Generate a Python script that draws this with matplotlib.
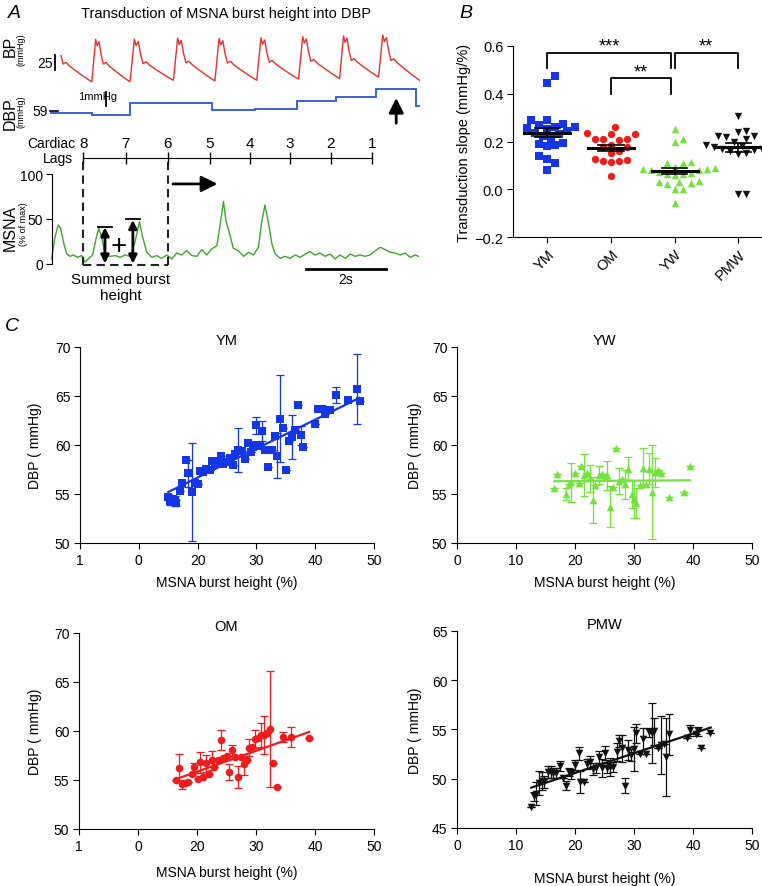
import numpy as np
import matplotlib
matplotlib.use('Agg')
from matplotlib import pyplot as plt

plt.rcParams['font.family'] = ['Liberation Sans', 'DejaVu Sans']

W, H = 762, 887

# ------------------------------------------------------------
# Panel A: example recording (time in s)
# ------------------------------------------------------------
T_END = 9.02

# one arterial pressure beat: fraction of the cycle, mmHg above the trough line
beat_frac = [0.0, 0.10, 0.14, 0.19, 0.24, 0.30, 0.37, 0.45, 0.60, 0.80, 0.95, 1.0]
beat_shape = [0, 72, 61, 68, 47, 30, 33, 27, 19, 9, 2, 0]
beat_onsets = [0.02, 1.02, 1.95, 3.01, 4.02, 5.04, 6.06, 7.06, 8.01, T_END]
beat_troughs = [59, 59, 59, 61.5, 60.5, 61.5, 63.5, 64.5, 67, 61]
bp_start = 0.27

# beat-by-beat diastolic pressure (step trace)
dbp_edges = [0, 1.02, 1.95, 2.95, 3.95, 5.0, 6.02, 6.98, 7.95, 8.93, T_END]
dbp_vals = [58.88, 58.75, 59.59, 59.54, 59.09, 59.16, 59.68, 59.95, 60.52, 59.34]

# cardiac lags
lag_t = [0.81, 1.85, 2.87, 3.89, 4.88, 5.85, 6.85, 7.86]
lag_labels = ['8', '7', '6', '5', '4', '3', '2', '1']

# integrated MSNA (% of max)
msna_t = [0.04, 0.12, 0.20, 0.26, 0.34, 0.41, 0.49, 0.57, 0.67, 0.77, 0.85, 0.93,
          1.04, 1.12, 1.19, 1.26, 1.34, 1.46, 1.59, 1.71, 1.83, 1.95, 2.07, 2.18,
          2.26, 2.36, 2.48, 2.60, 2.72, 2.85, 2.97, 3.09, 3.21, 3.33, 3.46, 3.58,
          3.70, 3.82, 3.94, 4.07, 4.15, 4.23, 4.29, 4.39, 4.47, 4.59, 4.72, 4.84,
          4.96, 5.08, 5.16, 5.24, 5.33, 5.41, 5.49, 5.61, 5.73, 5.85, 5.98, 6.10,
          6.22, 6.34, 6.46, 6.58, 6.71, 6.83, 6.95, 7.07, 7.20, 7.32, 7.44, 7.56,
          7.68, 7.80, 7.93, 8.05, 8.17, 8.29, 8.41, 8.54, 8.66, 8.78, 8.90, 8.98]
msna_v = [5.6, 29.6, 43.3, 39.6, 22, 11, 8.5, 10, 7.4, 9.3, 1.9, 5.6,
          10, 27.8, 39.6, 29.6, 11, 8.5, 9.3, 7.4, 10, 8.5, 24, 47,
          29.6, 13, 7.4, 9.3, 6.3, 10, 5.6, 12.2, 10, 14.8, 9.3, 8.5,
          16, 10, 16.7, 20.4, 44.4, 69.3, 48, 31.5, 17.4, 14.8, 8.5, 13,
          10, 18.5, 46.3, 65.6, 44.4, 22.2, 11.1, 6.3, 8.5, 6.3, 10, 7.4,
          11, 13.7, 10, 12.2, 8.5, 11, 5.6, 10, 6.3, 11, 8.5, 10,
          8.5, 10, 14.8, 18.5, 16, 13, 12.2, 10, 12.2, 7.4, 10, 8.5]

# ------------------------------------------------------------
# Panel B: transduction slopes (mmHg/%)
# ------------------------------------------------------------
groups = ['YM', 'OM', 'YW', 'PMW']
slope_ym = [0.474, 0.446, 0.290, 0.290, 0.275, 0.270, 0.262, 0.260, 0.258, 0.251, 0.245, 0.237,
            0.230, 0.222, 0.214, 0.195, 0.191, 0.184, 0.181, 0.140, 0.128, 0.109, 0.081]
slope_om = [0.262, 0.237, 0.233, 0.230, 0.212, 0.209, 0.209, 0.205, 0.185, 0.178, 0.175, 0.160,
            0.150, 0.125, 0.122, 0.120, 0.118, 0.115, 0.056]
slope_yw = [0.251, 0.212, 0.198, 0.114, 0.112, 0.112, 0.095, 0.085, 0.080, 0.091, 0.085, 0.080,
            0.072, 0.070, 0.065, 0.063, 0.060, 0.035, 0.031, 0.031, 0.028, 0.021, 0.000, 0.000, -0.059]
slope_pmw = [0.307, 0.244, 0.240, 0.223, 0.223, 0.220, 0.209, 0.200, 0.185, 0.181, 0.180, 0.178,
             0.170, 0.167, 0.165, 0.160, 0.150, 0.147, -0.021, -0.021]

# ------------------------------------------------------------
# Panel C: DBP vs MSNA burst height
# ------------------------------------------------------------
ym_x = [14.9, 15.3, 15.9, 16.1, 16.4, 17.0, 17.4, 17.95, 18.4, 19.0, 19.5, 20.0, 20.4, 20.95, 21.5,
        22.1, 22.5, 22.9, 23.5, 23.9, 24.3, 24.9, 25.5, 26.0, 26.4, 26.9, 27.5, 28.0, 28.5, 29.0,
        29.4, 30.0, 30.0, 30.6, 31.0, 31.5, 32.0, 32.6, 33.1, 33.5, 34.0, 34.5, 35.0, 35.6, 36.1,
        36.5, 37.0, 37.5, 37.9, 40.0, 40.5, 41.1, 41.6, 42.6, 43.5, 45.5, 47.1, 47.6]
ym_y = [54.7, 54.3, 54.5, 54.3, 54.1, 55.3, 56.1, 58.5, 57.1, 55.2, 56.1, 56.0, 57.3, 57.2, 57.6,
        57.5, 58.4, 58.1, 58.4, 58.9, 58.1, 58.3, 58.7, 58.0, 59.1, 59.5, 59.4, 58.6, 60.2, 59.3,
        59.8, 60.0, 62.0, 59.9, 61.4, 59.5, 57.8, 59.5, 60.9, 58.9, 62.7, 61.7, 57.5, 60.4, 60.8,
        61.5, 64.1, 61.0, 59.8, 62.1, 63.7, 63.7, 63.2, 63.6, 65.1, 64.6, 65.7, 64.5]
ym_err = [0.3, 0.4, 0, 0.5, 0.3, 0, 0, 0, 1.4, 5.0, 0, 0, 0, 0, 0,
          0, 0, 0, 0, 0, 0, 0, 0, 0, 0, 2.25, 0, 0, 0, 0,
          0, 0, 0.9, 0, 1.0, 0, 0, 0, 0, 2.3, 4.45, 0, 0, 0, 2.25,
          0, 0, 0.95, 0, 0, 0, 0, 0, 0, 0.8, 0, 3.6, 0]
ym_fit_x, ym_fit_y = [15.0, 47.5], [55.2, 64.8]

yw_x = [16.5, 17.0, 18.5, 19.0, 19.4, 20.0, 20.6, 21.0, 21.5, 22.1, 22.5, 23.0, 23.4, 24.0, 24.5,
        25.1, 25.5, 25.9, 26.5, 27.0, 27.5, 28.0, 28.5, 29.0, 29.6, 30.0, 30.4, 31.0, 31.6, 31.95,
        32.6, 33.0, 33.5, 34.0, 34.5, 36.0, 38.4, 39.5]
yw_y = [55.6, 57.0, 55.0, 56.0, 56.2, 57.1, 56.1, 57.9, 56.9, 57.1, 56.6, 54.4, 55.9, 56.95, 57.05,
        56.7, 56.9, 53.7, 55.7, 59.7, 56.3, 56.5, 56.0, 57.6, 55.0, 54.5, 54.1, 55.9, 57.7, 56.0,
        57.6, 55.2, 57.2, 57.4, 57.1, 54.7, 55.2, 57.9]
yw_err = [0, 0, 0.6, 0, 2.0, 0, 0, 0, 2.15, 0, 1.35, 2.35, 0, 0.95, 0,
          0, 1.45, 2.1, 0, 0, 1.35, 0, 1.5, 1.2, 1.45, 1.9, 1.5, 0, 2.0, 0,
          1.55, 4.75, 1.45, 0, 0, 0, 0, 0]
yw_fit_x, yw_fit_y = [16.5, 39.5], [56.3, 56.4]

om_x = [16.5, 17.0, 17.5, 17.9, 18.5, 19.1, 19.5, 20.1, 20.5, 21.05, 21.5, 22.0, 22.5, 22.9, 23.5,
        24.0, 24.4, 25.0, 25.45, 26.0, 26.4, 27.0, 27.5, 27.9, 28.4, 28.8, 29.4, 29.9, 30.4, 30.8,
        31.3, 31.8, 32.3, 32.9, 33.5, 34.5, 36.0, 39.0]
om_y = [55.0, 56.2, 54.55, 54.7, 54.8, 55.6, 56.3, 55.1, 56.8, 55.3, 56.7, 55.6, 57.0, 56.3, 57.0,
        59.1, 57.2, 57.5, 55.8, 58.05, 57.3, 55.3, 57.3, 56.6, 57.0, 58.3, 58.4, 59.2, 59.3, 59.6,
        59.6, 59.8, 60.2, 56.7, 54.3, 59.4, 59.4, 59.3]
om_err = [0, 1.45, 0.5, 0, 0, 0, 0.45, 0, 1.05, 0, 0.9, 0, 0.95, 0, 0,
          1.05, 0, 0, 0.8, 0.55, 0, 1.15, 0, 1.1, 0, 0.85, 0, 0.9, 0, 1.2,
          1.9, 0, 5.9, 0, 0, 0.5, 1.0, 0]
om_fit_x, om_fit_y = [16.5, 39.0], [55.1, 59.9]

pmw_x = [12.6, 13.0, 13.4, 13.9, 14.4, 14.8, 15.4, 15.9, 16.3, 16.8, 17.5, 17.9, 18.4, 18.9, 19.4,
         20.0, 20.6, 20.85, 21.5, 22.1, 22.5, 23.1, 23.6, 24.0, 24.5, 25.0, 25.5, 25.9, 26.5, 27.1,
         27.5, 27.9, 28.5, 29.0, 29.5, 30.0, 30.4, 31.0, 31.6, 31.95, 32.5, 33.0, 33.4, 34.1, 34.6,
         35.0, 35.5, 36.0, 38.9, 39.5, 40.5, 40.9, 41.4, 42.8]
pmw_y = [47.1, 48.2, 48.5, 49.6, 49.8, 49.7, 50.7, 50.7, 50.6, 50.55, 51.3, 50.1, 49.3, 50.7, 50.5,
         51.4, 52.6, 49.7, 49.7, 51.5, 51.7, 51.0, 51.1, 52.2, 51.1, 52.6, 51.1, 51.2, 51.2, 52.7,
         53.8, 53.1, 49.3, 52.95, 52.4, 53.0, 54.6, 52.5, 54.0, 52.5, 54.7, 54.6, 54.8, 53.1, 53.4,
         53.5, 52.2, 54.5, 54.1, 54.9, 54.5, 54.8, 53.1, 54.6]
pmw_err = [0, 0.5, 1.2, 1.2, 0.9, 0.6, 0.6, 0.6, 0.5, 0.5, 0.5, 0, 0.45, 0.4, 0.5,
           0.5, 0.65, 1.1, 0, 0.5, 0.6, 0.6, 0.5, 0.6, 0.9, 0.7, 0.5, 0.95, 0.5, 0.9,
           0.6, 1.35, 0.75, 1.0, 0.6, 2.25, 0.95, 0, 1.2, 0, 0.5, 3.05, 1.4, 0, 2.95,
           0, 3.95, 2.1, 0, 0.6, 0, 0.5, 0, 0]
pmw_fit_x, pmw_fit_y = [12.6, 43.0], [49.1, 55.2]

BLUE = '#1436e6'
RED = '#ee1c1c'
GREEN = '#72e23c'
BLACK = '#111111'


def ftext(x, y, s, **kw):
    # text placed in figure pixels (origin top left)
    fig.text(x / W, 1 - y / H, s, **kw)


def px_axes(x0, y0, x1, y1):
    return fig.add_axes([x0 / W, 1 - y1 / H, (x1 - x0) / W, (y1 - y0) / H])


def swarm_offsets(vals, d=8.0, px_y=239.0, px_x=63.7):
    offs = np.zeros(len(vals))
    placed = []
    for i in np.argsort(vals):
        y = vals[i] * px_y
        cands = [0.0]
        for k in range(1, 40):
            cands += [k * d / 2, -k * d / 2]
        for c in cands:
            if all((c - ox) ** 2 + (y - oy) ** 2 >= d ** 2 for ox, oy in placed):
                break
        placed.append((c, y))
        offs[i] = c / px_x
    return offs


fig = plt.figure(figsize=(W / 100, H / 100), dpi=100)

# ---------------- Panel A ----------------
ftext(8, 14, 'A', fontsize=14, style='italic', va='center')
ftext(226, 14, 'Transduction of MSNA burst height into DBP', fontsize=10.5, ha='center', va='center')

# BP
axBP = px_axes(50, 30, 420, 90)
bp_t, bp_p = [], []
for i in range(len(beat_onsets) - 1):
    t0, t1 = beat_onsets[i], beat_onsets[i + 1]
    lo, hi = beat_troughs[i], beat_troughs[i + 1]
    for f, s in zip(beat_frac, beat_shape):
        bp_t.append(t0 + f * (t1 - t0))
        bp_p.append(lo + (hi - lo) * f + s)
bp_t, bp_p = np.array(bp_t), np.array(bp_p)
p_start = np.interp(bp_start, bp_t, bp_p)
keep = bp_t > bp_start
bp_t = np.concatenate([[bp_start], bp_t[keep]])
bp_p = np.concatenate([[p_start], bp_p[keep]])
axBP.plot(bp_t, bp_p, color='#e8302c', lw=1.0)
axBP.plot([0.12, 0.12], [79, 104], color='k', lw=1.3)
axBP.set_xlim(0, T_END)
axBP.set_ylim(46.6, 148.6)
axBP.axis('off')
ftext(53, 64, '25', fontsize=10, ha='right', va='center')
ftext(10, 46, 'BP', fontsize=11.5, rotation=90, ha='center', va='center')
ftext(21, 50, '(mmHg)', fontsize=6.5, rotation=90, ha='center', va='center')

# DBP
axD = px_axes(50, 85, 420, 130)
axD.stairs(dbp_vals, dbp_edges, baseline=None, color='#2a55d8', lw=1.3)
axD.plot([1.37, 1.37], [59.34, 60.33], color='k', lw=1.3)
axD.plot([0.0, 0.2], [59, 59], color='k', lw=1.2, clip_on=False)
axD.annotate('', xy=(8.44, 60.1), xytext=(8.44, 58.0),
             arrowprops=dict(arrowstyle='-|>', color='k', lw=2, mutation_scale=22))
axD.set_xlim(0, T_END)
axD.set_ylim(57.80, 60.86)
axD.axis('off')
ftext(78, 97, '1mmHg', fontsize=8, ha='left', va='center')
ftext(48, 112, '59', fontsize=10, ha='right', va='center')
ftext(10, 114, 'DBP', fontsize=11.5, rotation=90, ha='center', va='center')
ftext(21, 112, '(mmHg)', fontsize=6.5, rotation=90, ha='center', va='center')

# cardiac lags
axL = px_axes(50, 150, 420, 159)
axL.set_xlim(0, T_END)
axL.set_ylim(0, 1)
for s in ['top', 'right', 'left']:
    axL.spines[s].set_visible(False)
axL.spines['bottom'].set_bounds(lag_t[0], lag_t[-1])
axL.set_xticks(lag_t)
axL.set_xticklabels([])
axL.tick_params(axis='x', direction='inout', length=8, width=1)
for t, lab in zip(lag_t, lag_labels):
    axL.text(t, 1.67, lab, fontsize=11, ha='center', va='center', clip_on=False)
axL.set_yticks([])
axL.patch.set_visible(False)
ftext(27, 144, 'Cardiac', fontsize=10, ha='left', va='center')
ftext(43, 159, 'Lags', fontsize=10, ha='left', va='center')

# MSNA
axM = px_axes(50, 170, 420, 270)
axM.plot(msna_t, msna_v, color='#3da52c', lw=1.0)
axM.set_xlim(0, T_END)
axM.set_ylim(-5.6, 105.6)
for s in ['top', 'right', 'bottom']:
    axM.spines[s].set_visible(False)
axM.spines['left'].set_position(('data', 0.04))
axM.spines['left'].set_bounds(0, 100)
axM.set_yticks([0, 50, 100])
axM.set_xticks([])
axM.tick_params(axis='y', length=4, labelsize=10, pad=2)
axM.patch.set_visible(False)
dash = dict(color='#222222', lw=1.5, ls=(0, (4, 2.5)), clip_on=False)
axM.plot([lag_t[0], lag_t[0]], [-1.1, 118], **dash)
axM.plot([lag_t[2], lag_t[2]], [-1.1, 118], **dash)
axM.plot([lag_t[0], lag_t[2]], [-1.1, -1.1], **dash)
axM.annotate('', xy=(4.15, 89), xytext=(2.93, 89),
             arrowprops=dict(arrowstyle='-|>', color='k', lw=2, mutation_scale=24))
for xa, top, b0, b1 in [(1.34, 40.7, 1.16, 1.50), (2.02, 48.9, 1.85, 2.20)]:
    axM.annotate('', xy=(xa, top), xytext=(xa, 0.5),
                 arrowprops=dict(arrowstyle='<|-|>', color='k', lw=2, mutation_scale=12,
                                 shrinkA=0, shrinkB=0))
    axM.plot([b0, b1], [top + 0.8, top + 0.8], color='k', lw=1.3)
axM.text(1.68, 20.4, '+', fontsize=20, ha='center', va='center')
axM.plot([6.24, 8.19], [-5.6, -5.6], color='k', lw=2, clip_on=False)
ftext(346, 280, '2s', fontsize=10, ha='center', va='center')
ftext(121, 288, 'Summed burst\nheight', fontsize=11, ha='center', va='center',
      multialignment='center', linespacing=1.15)
ftext(10, 228, 'MSNA', fontsize=11.5, rotation=90, ha='center', va='center')
ftext(24, 224, '(% of max)', fontsize=6.5, rotation=90, ha='center', va='center')

# ---------------- Panel B ----------------
ftext(466, 13, 'B', fontsize=14, style='italic', va='center', ha='center')
axB = px_axes(513, 47, 762, 238)
b_data = [slope_ym, slope_om, slope_yw, slope_pmw]
b_colors = [BLUE, RED, GREEN, BLACK]
b_markers = ['s', 'o', '^', 'v']
for k, (vals, c, m) in enumerate(zip(b_data, b_colors, b_markers)):
    vals = np.array(vals)
    xs = k + swarm_offsets(vals)
    axB.scatter(xs, vals, s=28, marker=m, color=c, linewidths=0, zorder=3)
    mean = vals.mean()
    sem = vals.std(ddof=1) / np.sqrt(len(vals))
    axB.plot([k - 0.36, k + 0.36], [mean, mean], color='k', lw=2.2, zorder=4)
    axB.plot([k, k], [mean - sem, mean + sem], color='k', lw=1.2, zorder=4)
    axB.plot([k - 0.2, k + 0.2], [mean - sem, mean - sem], color='k', lw=1.2, zorder=4)
    axB.plot([k - 0.2, k + 0.2], [mean + sem, mean + sem], color='k', lw=1.2, zorder=4)

br = dict(color='k', lw=1.3, clip_on=False)
axB.plot([0, 0, 1.94, 1.94], [0.509, 0.572, 0.572, 0.509], **br)
axB.plot([2.0, 2.0, 3.0, 3.0], [0.509, 0.572, 0.572, 0.509], **br)
axB.plot([1.0, 1.0, 1.94, 1.94], [0.398, 0.465, 0.465, 0.398], **br)
axB.text(0.97, 0.598, '***', fontsize=13, ha='center', va='center', clip_on=False)
axB.text(2.49, 0.598, '**', fontsize=13, ha='center', va='center', clip_on=False)
axB.text(1.47, 0.493, '**', fontsize=13, ha='center', va='center')

axB.set_xlim(-0.54, 3.37)
axB.set_ylim(-0.2, 0.6)
axB.set_yticks([-0.2, 0.0, 0.2, 0.4, 0.6])
axB.set_yticklabels(['\u22120.2', '0.0', '0.2', '0.4', '0.6'])
axB.set_xticks(range(4))
axB.set_xticklabels(groups, rotation=45, ha='right', va='top', rotation_mode='anchor')
axB.spines['top'].set_visible(False)
axB.spines['right'].set_visible(False)
axB.tick_params(length=4, labelsize=10.5, pad=3)
axB.set_ylabel('Transduction slope (mmHg/%)', fontsize=10.5, va='center')
axB.yaxis.set_label_coords(-0.195, 0.5)

# ---------------- Panel C ----------------
ftext(12, 327, 'C', fontsize=14, style='italic', va='center', ha='center')

panels = [
    ('YM', (80, 348, 374, 544), ym_x, ym_y, ym_err, ym_fit_x, ym_fit_y, BLUE, 's',
     (50, 70), ['1', '0', '20', '30', '40', '50'], -0.199, -0.153),
    ('YW', (457, 348, 752, 544), yw_x, yw_y, yw_err, yw_fit_x, yw_fit_y, GREEN, '^',
     (50, 70), ['0', '10', '20', '30', '40', '50'], -0.199, -0.142),
    ('OM', (79, 634, 374, 830), om_x, om_y, om_err, om_fit_x, om_fit_y, RED, 'o',
     (50, 70), ['1', '0', '20', '30', '40', '50'], -0.219, -0.150),
    ('PMW', (457, 632, 752, 829), pmw_x, pmw_y, pmw_err, pmw_fit_x, pmw_fit_y, BLACK, 'v',
     (45, 65), ['0', '10', '20', '30', '40', '50'], -0.254, -0.142),
]
for name, box, xs, ys, errs, fx, fy, c, m, ylim, xlabels, xl_y, yl_x in panels:
    ax = px_axes(*box)
    ax.errorbar(xs, ys, yerr=errs, fmt='none', ecolor=c, elinewidth=0.9, capsize=3,
                capthick=0.9, zorder=2)
    ax.plot(fx, fy, color=c, lw=1.6, zorder=3)
    ax.scatter(xs, ys, s=30, marker=m, color=c, linewidths=0, zorder=4)
    ax.set_xlim(0, 50)
    ax.set_ylim(*ylim)
    ax.set_xticks([0, 10, 20, 30, 40, 50])
    ax.set_xticklabels(xlabels)
    ax.set_yticks(np.arange(ylim[0], ylim[1] + 1, 5))
    ax.spines['top'].set_visible(False)
    ax.spines['right'].set_visible(False)
    ax.tick_params(length=4, labelsize=10, pad=3)
    ax.set_title(name, fontsize=10.5, pad=-1)
    ax.set_xlabel('MSNA burst height (%)', fontsize=10, va='center')
    ax.set_ylabel('DBP ( mmHg)', fontsize=10, va='center')
    ax.xaxis.set_label_coords(0.5, xl_y)
    ax.yaxis.set_label_coords(yl_x, 0.5)

fig.savefig('out.png', dpi=100)
